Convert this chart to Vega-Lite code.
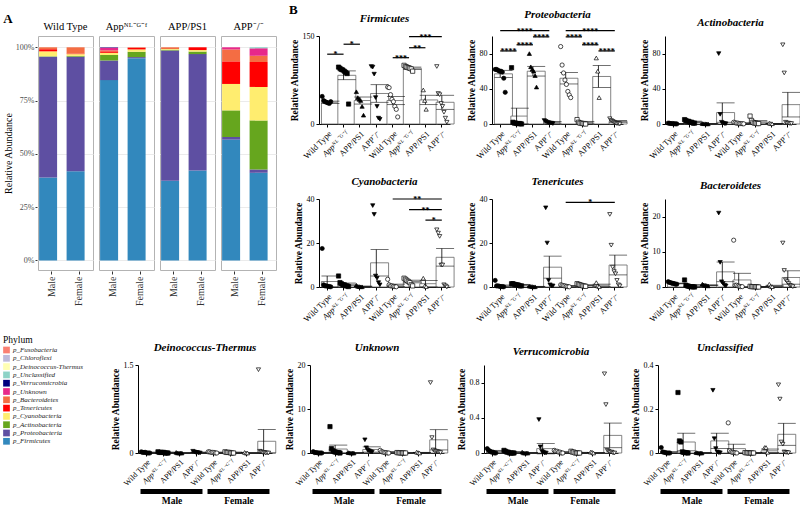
{
"$schema": "https://vega.github.io/schema/vega-lite/v6.json",
"padding": {"left": 3, "top": 3, "right": 3, "bottom": 2},
"background": "white",
"config": {
 "font": "Liberation Serif",
 "view": {"stroke": null},
 "title": {"font": "Liberation Serif", "fontSize": 11, "fontWeight": "bold", "fontStyle": "italic", "color": "black", "offset": 8},
 "axis": {"labelFont": "Liberation Serif", "titleFont": "Liberation Serif", "grid": false, "labelColor": "black", "titleColor": "black", "tickColor": "black", "domainColor": "black"},
 "header": {"labelFont": "Liberation Serif", "labelFontSize": 10.5, "labelColor": "black", "titleFont": "Liberation Serif"},
 "legend": {"labelFont": "Liberation Serif", "titleFont": "Liberation Serif"}
},
"datasets": {
 "A": [
  {"gt":"WT","sx":"Male","ph":"p_Firmicutes","v":38.9},{"gt":"WT","sx":"Male","ph":"p_Proteobacteria","v":56.7},{"gt":"WT","sx":"Male","ph":"p_Actinobacteria","v":0.2},{"gt":"WT","sx":"Male","ph":"p_Cyanobacteria","v":2.3},{"gt":"WT","sx":"Male","ph":"p_Tenericutes","v":1.0},{"gt":"WT","sx":"Male","ph":"p_Bacteroidetes","v":0.9},
  {"gt":"WT","sx":"Female","ph":"p_Firmicutes","v":41.8},{"gt":"WT","sx":"Female","ph":"p_Proteobacteria","v":53.8},{"gt":"WT","sx":"Female","ph":"p_Actinobacteria","v":0.4},{"gt":"WT","sx":"Female","ph":"p_Cyanobacteria","v":0.8},{"gt":"WT","sx":"Female","ph":"p_Tenericutes","v":0.2},{"gt":"WT","sx":"Female","ph":"p_Bacteroidetes","v":3.0},
  {"gt":"App","sx":"Male","ph":"p_Firmicutes","v":84.6},{"gt":"App","sx":"Male","ph":"p_Proteobacteria","v":9.2},{"gt":"App","sx":"Male","ph":"p_Actinobacteria","v":2.6},{"gt":"App","sx":"Male","ph":"p_Cyanobacteria","v":1.0},{"gt":"App","sx":"Male","ph":"p_Tenericutes","v":0.7},{"gt":"App","sx":"Male","ph":"p_Bacteroidetes","v":0.5},{"gt":"App","sx":"Male","ph":"p_Unknown","v":1.2},{"gt":"App","sx":"Male","ph":"p_Verrucomicrobia","v":0.2},
  {"gt":"App","sx":"Female","ph":"p_Firmicutes","v":94.9},{"gt":"App","sx":"Female","ph":"p_Proteobacteria","v":0.5},{"gt":"App","sx":"Female","ph":"p_Actinobacteria","v":2.5},{"gt":"App","sx":"Female","ph":"p_Cyanobacteria","v":1.1},{"gt":"App","sx":"Female","ph":"p_Tenericutes","v":0.8},{"gt":"App","sx":"Female","ph":"p_Bacteroidetes","v":0.2},
  {"gt":"PS1","sx":"Male","ph":"p_Firmicutes","v":37.4},{"gt":"PS1","sx":"Male","ph":"p_Proteobacteria","v":61.1},{"gt":"PS1","sx":"Male","ph":"p_Actinobacteria","v":0.4},{"gt":"PS1","sx":"Male","ph":"p_Cyanobacteria","v":0.3},{"gt":"PS1","sx":"Male","ph":"p_Bacteroidetes","v":0.8},
  {"gt":"PS1","sx":"Female","ph":"p_Firmicutes","v":42.2},{"gt":"PS1","sx":"Female","ph":"p_Proteobacteria","v":54.6},{"gt":"PS1","sx":"Female","ph":"p_Actinobacteria","v":1.2},{"gt":"PS1","sx":"Female","ph":"p_Cyanobacteria","v":0.7},{"gt":"PS1","sx":"Female","ph":"p_Tenericutes","v":1.3},
  {"gt":"KO","sx":"Male","ph":"p_Firmicutes","v":56.7},{"gt":"KO","sx":"Male","ph":"p_Proteobacteria","v":1.2},{"gt":"KO","sx":"Male","ph":"p_Actinobacteria","v":12.5},{"gt":"KO","sx":"Male","ph":"p_Cyanobacteria","v":12.4},{"gt":"KO","sx":"Male","ph":"p_Tenericutes","v":10.6},{"gt":"KO","sx":"Male","ph":"p_Bacteroidetes","v":5.6},{"gt":"KO","sx":"Male","ph":"p_Unknown","v":1.0},
  {"gt":"KO","sx":"Female","ph":"p_Firmicutes","v":41.1},{"gt":"KO","sx":"Female","ph":"p_Proteobacteria","v":1.6},{"gt":"KO","sx":"Female","ph":"p_Actinobacteria","v":23.0},{"gt":"KO","sx":"Female","ph":"p_Cyanobacteria","v":15.7},{"gt":"KO","sx":"Female","ph":"p_Tenericutes","v":11.7},{"gt":"KO","sx":"Female","ph":"p_Bacteroidetes","v":2.9},{"gt":"KO","sx":"Female","ph":"p_Unknown","v":3.5},{"gt":"KO","sx":"Female","ph":"p_Unclassified","v":0.5}
 ],
 "sexbar": [{"s": "Male", "a": -0.35, "b": 3.35}, {"s": "Female", "a": 3.65, "b": 7.35}],
 "bars": [
  {"p":"Fi","g":"M-WT","m":37,"s":2},{"p":"Fi","g":"M-App","m":83,"s":7.5},{"p":"Fi","g":"M-PS1","m":40,"s":6},{"p":"Fi","g":"M-KO","m":52,"s":15},{"p":"Fi","g":"F-WT","m":40,"s":7},{"p":"Fi","g":"F-App","m":95,"s":2},{"p":"Fi","g":"F-PS1","m":41,"s":8},{"p":"Fi","g":"F-KO","m":37,"s":12},
  {"p":"Pr","g":"M-WT","m":57,"s":4},{"p":"Pr","g":"M-App","m":9,"s":9},{"p":"Pr","g":"M-PS1","m":60,"s":5.5},{"p":"Pr","g":"M-KO","m":2,"s":1},{"p":"Pr","g":"F-WT","m":52,"s":6.5},{"p":"Pr","g":"F-App","m":2,"s":1},{"p":"Pr","g":"F-PS1","m":54,"s":12.5},{"p":"Pr","g":"F-KO","m":3,"s":1},
  {"p":"Ac","g":"M-WT","m":0.5,"s":0.2},{"p":"Ac","g":"M-App","m":2.5,"s":0.7},{"p":"Ac","g":"M-PS1","m":0.3,"s":0.1},{"p":"Ac","g":"M-KO","m":13,"s":11},{"p":"Ac","g":"F-WT","m":1,"s":0.3},{"p":"Ac","g":"F-App","m":2.5,"s":1.3},{"p":"Ac","g":"F-PS1","m":0.5,"s":0.2},{"p":"Ac","g":"F-KO","m":22,"s":14},
  {"p":"Cy","g":"M-WT","m":2.5,"s":2.5},{"p":"Cy","g":"M-App","m":1.2,"s":0.6},{"p":"Cy","g":"M-PS1","m":0.3,"s":0.1},{"p":"Cy","g":"M-KO","m":11,"s":6},{"p":"Cy","g":"F-WT","m":0.8,"s":0.5},{"p":"Cy","g":"F-App","m":2.5,"s":0.6},{"p":"Cy","g":"F-PS1","m":1.5,"s":1.5},{"p":"Cy","g":"F-KO","m":13.5,"s":4},
  {"p":"Te","g":"M-WT","m":0.5,"s":0.4},{"p":"Te","g":"M-App","m":1,"s":0.2},{"p":"Te","g":"M-PS1","m":0.2,"s":0.1},{"p":"Te","g":"M-KO","m":9,"s":5},{"p":"Te","g":"F-WT","m":0.5,"s":0.2},{"p":"Te","g":"F-App","m":0.8,"s":0.2},{"p":"Te","g":"F-PS1","m":0.8,"s":0.5},{"p":"Te","g":"F-KO","m":10,"s":4.5},
  {"p":"Ba","g":"M-WT","m":1,"s":0.1},{"p":"Ba","g":"M-App","m":0.4,"s":0.3},{"p":"Ba","g":"M-PS1","m":0.5,"s":0.1},{"p":"Ba","g":"M-KO","m":4.3,"s":2.8},{"p":"Ba","g":"F-WT","m":2,"s":1.9},{"p":"Ba","g":"F-App","m":0.1,"s":0.05},{"p":"Ba","g":"F-PS1","m":0.3,"s":0.2},{"p":"Ba","g":"F-KO","m":2.7,"s":1.9},
  {"p":"De","g":"M-WT","m":0.01,"s":0.005},{"p":"De","g":"M-App","m":0.01,"s":0.005},{"p":"De","g":"M-PS1","m":0.003,"s":0.002},{"p":"De","g":"M-KO","m":0.01,"s":0.005},{"p":"De","g":"F-WT","m":0.01,"s":0.005},{"p":"De","g":"F-App","m":0.01,"s":0.005},{"p":"De","g":"F-PS1","m":0.003,"s":0.002},{"p":"De","g":"F-KO","m":0.2,"s":0.2},
  {"p":"Un","g":"M-WT","m":0.1,"s":0.05},{"p":"Un","g":"M-App","m":0.9,"s":0.9},{"p":"Un","g":"M-PS1","m":0.05,"s":0.02},{"p":"Un","g":"M-KO","m":0.8,"s":0.6},{"p":"Un","g":"F-WT","m":0.2,"s":0.1},{"p":"Un","g":"F-App","m":0.05,"s":0.02},{"p":"Un","g":"F-PS1","m":0.1,"s":0.05},{"p":"Un","g":"F-KO","m":3,"s":2.3},
  {"p":"Ve","g":"M-WT","m":0.02,"s":0.01},{"p":"Ve","g":"M-App","m":0.01,"s":0.005},{"p":"Ve","g":"M-PS1","m":0.003,"s":0.002},{"p":"Ve","g":"M-KO","m":0.05,"s":0.06},{"p":"Ve","g":"F-WT","m":0.01,"s":0.005},{"p":"Ve","g":"F-App","m":0.005,"s":0.003},{"p":"Ve","g":"F-PS1","m":0.003,"s":0.002},{"p":"Ve","g":"F-KO","m":0.2,"s":0.14},
  {"p":"Uc","g":"M-WT","m":0.003,"s":0.003},{"p":"Uc","g":"M-App","m":0.05,"s":0.04},{"p":"Uc","g":"M-PS1","m":0.001,"s":0.001},{"p":"Uc","g":"M-KO","m":0.055,"s":0.035},{"p":"Uc","g":"F-WT","m":0.02,"s":0.02},{"p":"Uc","g":"F-App","m":0.001,"s":0.001},{"p":"Uc","g":"F-PS1","m":0.01,"s":0.008},{"p":"Uc","g":"F-KO","m":0.085,"s":0.05}
 ],
 "brk": [
  {"p":"Fi","a":0,"b":1,"c":0.5,"y":119,"t":"*"},{"p":"Fi","a":1,"b":2,"c":1.5,"y":136,"t":"*"},{"p":"Fi","a":4,"b":5,"c":4.5,"y":113,"t":"***"},{"p":"Fi","a":5,"b":6,"c":5.5,"y":130,"t":"**"},{"p":"Fi","a":5,"b":7,"c":6,"y":149,"t":"***"},
  {"p":"Pr","a":0,"b":1,"c":0.5,"y":83,"t":"****"},{"p":"Pr","a":1,"b":2,"c":1.5,"y":90,"t":"****"},{"p":"Pr","a":2,"b":3,"c":2.5,"y":99,"t":"****"},{"p":"Pr","a":0,"b":3,"c":1.5,"y":106,"t":"****"},{"p":"Pr","a":4,"b":5,"c":4.5,"y":99,"t":"****"},{"p":"Pr","a":5,"b":6,"c":5.5,"y":90,"t":"****"},{"p":"Pr","a":6,"b":7,"c":6.5,"y":83,"t":"****"},{"p":"Pr","a":4,"b":7,"c":5.5,"y":106,"t":"****"},
  {"p":"Cy","a":4,"b":7,"c":5.5,"y":40,"t":"**"},{"p":"Cy","a":5,"b":7,"c":6,"y":35.2,"t":"**"},{"p":"Cy","a":6,"b":7,"c":6.5,"y":30.4,"t":"*"},
  {"p":"Te","a":4,"b":7,"c":5.5,"y":38.5,"t":"*"}
 ],
 "pts": [
  {"p":"Fi","g":"M-WT","r":0,"v":47},{"p":"Fi","g":"M-WT","r":1,"v":40},{"p":"Fi","g":"M-WT","r":2,"v":38},{"p":"Fi","g":"M-WT","r":3,"v":37},{"p":"Fi","g":"M-WT","r":4,"v":36},{"p":"Fi","g":"M-WT","r":5,"v":35},{"p":"Fi","g":"M-WT","r":6,"v":38},
  {"p":"Fi","g":"M-App","r":0,"v":97},{"p":"Fi","g":"M-App","r":1,"v":95},{"p":"Fi","g":"M-App","r":2,"v":93},{"p":"Fi","g":"M-App","r":3,"v":92},{"p":"Fi","g":"M-App","r":4,"v":90},{"p":"Fi","g":"M-App","r":5,"v":88},{"p":"Fi","g":"M-App","r":6,"v":86},{"p":"Fi","g":"M-App","r":7,"v":34},
  {"p":"Fi","g":"M-PS1","r":1,"v":55},{"p":"Fi","g":"M-PS1","r":2,"v":45},{"p":"Fi","g":"M-PS1","r":3,"v":42},{"p":"Fi","g":"M-PS1","r":4,"v":40},{"p":"Fi","g":"M-PS1","r":5,"v":30},{"p":"Fi","g":"M-PS1","r":6,"v":15},
  {"p":"Fi","g":"M-KO","r":0,"v":98},{"p":"Fi","g":"M-KO","r":1,"v":97},{"p":"Fi","g":"M-KO","r":2,"v":85},{"p":"Fi","g":"M-KO","r":3,"v":45},{"p":"Fi","g":"M-KO","r":4,"v":30},{"p":"Fi","g":"M-KO","r":5,"v":10},{"p":"Fi","g":"M-KO","r":6,"v":8},
  {"p":"Fi","g":"F-WT","r":0,"v":63},{"p":"Fi","g":"F-WT","r":1,"v":62},{"p":"Fi","g":"F-WT","r":2,"v":50},{"p":"Fi","g":"F-WT","r":3,"v":42},{"p":"Fi","g":"F-WT","r":4,"v":38},{"p":"Fi","g":"F-WT","r":5,"v":30},{"p":"Fi","g":"F-WT","r":6,"v":25},{"p":"Fi","g":"F-WT","r":7,"v":12},
  {"p":"Fi","g":"F-App","r":0,"v":100},{"p":"Fi","g":"F-App","r":1,"v":98},{"p":"Fi","g":"F-App","r":2,"v":97},{"p":"Fi","g":"F-App","r":3,"v":96},{"p":"Fi","g":"F-App","r":4,"v":95},{"p":"Fi","g":"F-App","r":5,"v":94},{"p":"Fi","g":"F-App","r":6,"v":90},
  {"p":"Fi","g":"F-PS1","r":2,"v":58},{"p":"Fi","g":"F-PS1","r":3,"v":40},{"p":"Fi","g":"F-PS1","r":4,"v":25},
  {"p":"Fi","g":"F-KO","r":0,"v":98},{"p":"Fi","g":"F-KO","r":1,"v":52},{"p":"Fi","g":"F-KO","r":2,"v":50},{"p":"Fi","g":"F-KO","r":3,"v":35},{"p":"Fi","g":"F-KO","r":4,"v":30},{"p":"Fi","g":"F-KO","r":5,"v":20},{"p":"Fi","g":"F-KO","r":6,"v":10},{"p":"Fi","g":"F-KO","r":7,"v":3},
  {"p":"Pr","g":"M-WT","r":0,"v":62},{"p":"Pr","g":"M-WT","r":1,"v":62},{"p":"Pr","g":"M-WT","r":2,"v":61},{"p":"Pr","g":"M-WT","r":3,"v":60},{"p":"Pr","g":"M-WT","r":4,"v":60},{"p":"Pr","g":"M-WT","r":5,"v":59},{"p":"Pr","g":"M-WT","r":6,"v":52},{"p":"Pr","g":"M-WT","r":7,"v":36},
  {"p":"Pr","g":"M-App","r":0,"v":64},{"p":"Pr","g":"M-App","r":1,"v":2},{"p":"Pr","g":"M-App","r":2,"v":1},{"p":"Pr","g":"M-App","r":3,"v":1},{"p":"Pr","g":"M-App","r":4,"v":0.5},{"p":"Pr","g":"M-App","r":5,"v":0.5},{"p":"Pr","g":"M-App","r":6,"v":0.5},{"p":"Pr","g":"M-App","r":7,"v":0},
  {"p":"Pr","g":"M-PS1","r":1,"v":80},{"p":"Pr","g":"M-PS1","r":2,"v":65},{"p":"Pr","g":"M-PS1","r":3,"v":62},{"p":"Pr","g":"M-PS1","r":4,"v":60},{"p":"Pr","g":"M-PS1","r":5,"v":55},{"p":"Pr","g":"M-PS1","r":6,"v":42},
  {"p":"Pr","g":"M-KO","r":0,"v":4},{"p":"Pr","g":"M-KO","r":1,"v":3},{"p":"Pr","g":"M-KO","r":2,"v":2},{"p":"Pr","g":"M-KO","r":3,"v":1.5},{"p":"Pr","g":"M-KO","r":4,"v":1},{"p":"Pr","g":"M-KO","r":5,"v":1},{"p":"Pr","g":"M-KO","r":6,"v":0.5},
  {"p":"Pr","g":"F-WT","r":0,"v":88},{"p":"Pr","g":"F-WT","r":1,"v":67},{"p":"Pr","g":"F-WT","r":2,"v":58},{"p":"Pr","g":"F-WT","r":3,"v":50},{"p":"Pr","g":"F-WT","r":4,"v":45},{"p":"Pr","g":"F-WT","r":5,"v":37},{"p":"Pr","g":"F-WT","r":6,"v":33},{"p":"Pr","g":"F-WT","r":7,"v":30},
  {"p":"Pr","g":"F-App","r":0,"v":5},{"p":"Pr","g":"F-App","r":1,"v":2},{"p":"Pr","g":"F-App","r":2,"v":1},{"p":"Pr","g":"F-App","r":3,"v":1},{"p":"Pr","g":"F-App","r":4,"v":0.5},{"p":"Pr","g":"F-App","r":5,"v":0.5},{"p":"Pr","g":"F-App","r":6,"v":0},
  {"p":"Pr","g":"F-PS1","r":2,"v":75},{"p":"Pr","g":"F-PS1","r":3,"v":60},{"p":"Pr","g":"F-PS1","r":4,"v":30},
  {"p":"Pr","g":"F-KO","r":0,"v":6},{"p":"Pr","g":"F-KO","r":1,"v":4},{"p":"Pr","g":"F-KO","r":2,"v":3},{"p":"Pr","g":"F-KO","r":3,"v":2},{"p":"Pr","g":"F-KO","r":4,"v":1},{"p":"Pr","g":"F-KO","r":5,"v":0.5},{"p":"Pr","g":"F-KO","r":6,"v":0.5},{"p":"Pr","g":"F-KO","r":7,"v":0},
  {"p":"Ac","g":"M-WT","r":0,"v":1},{"p":"Ac","g":"M-WT","r":1,"v":0.8},{"p":"Ac","g":"M-WT","r":2,"v":0.5},{"p":"Ac","g":"M-WT","r":3,"v":0.5},{"p":"Ac","g":"M-WT","r":4,"v":0.3},{"p":"Ac","g":"M-WT","r":5,"v":0.2},{"p":"Ac","g":"M-WT","r":6,"v":0.1},
  {"p":"Ac","g":"M-App","r":0,"v":5},{"p":"Ac","g":"M-App","r":1,"v":4},{"p":"Ac","g":"M-App","r":2,"v":3},{"p":"Ac","g":"M-App","r":3,"v":3},{"p":"Ac","g":"M-App","r":4,"v":2},{"p":"Ac","g":"M-App","r":5,"v":2},{"p":"Ac","g":"M-App","r":6,"v":1},{"p":"Ac","g":"M-App","r":7,"v":1},
  {"p":"Ac","g":"M-PS1","r":1,"v":0.5},{"p":"Ac","g":"M-PS1","r":2,"v":0.3},{"p":"Ac","g":"M-PS1","r":3,"v":0.3},{"p":"Ac","g":"M-PS1","r":4,"v":0.2},{"p":"Ac","g":"M-PS1","r":5,"v":0.1},
  {"p":"Ac","g":"M-KO","r":1,"v":80},{"p":"Ac","g":"M-KO","r":2,"v":11},{"p":"Ac","g":"M-KO","r":3,"v":2},{"p":"Ac","g":"M-KO","r":4,"v":1},{"p":"Ac","g":"M-KO","r":5,"v":0.5},{"p":"Ac","g":"M-KO","r":6,"v":0.3},
  {"p":"Ac","g":"F-WT","r":0,"v":2},{"p":"Ac","g":"F-WT","r":1,"v":1.5},{"p":"Ac","g":"F-WT","r":2,"v":1},{"p":"Ac","g":"F-WT","r":3,"v":1},{"p":"Ac","g":"F-WT","r":4,"v":0.5},{"p":"Ac","g":"F-WT","r":5,"v":0.5},{"p":"Ac","g":"F-WT","r":6,"v":0.3},{"p":"Ac","g":"F-WT","r":7,"v":0.2},
  {"p":"Ac","g":"F-App","r":0,"v":9},{"p":"Ac","g":"F-App","r":1,"v":4},{"p":"Ac","g":"F-App","r":2,"v":2},{"p":"Ac","g":"F-App","r":3,"v":1},{"p":"Ac","g":"F-App","r":4,"v":1},{"p":"Ac","g":"F-App","r":5,"v":0.5},{"p":"Ac","g":"F-App","r":6,"v":0.5},
  {"p":"Ac","g":"F-PS1","r":2,"v":1},{"p":"Ac","g":"F-PS1","r":3,"v":0.5},{"p":"Ac","g":"F-PS1","r":4,"v":0.3},
  {"p":"Ac","g":"F-KO","r":0,"v":90},{"p":"Ac","g":"F-KO","r":1,"v":58},{"p":"Ac","g":"F-KO","r":2,"v":2},{"p":"Ac","g":"F-KO","r":3,"v":1},{"p":"Ac","g":"F-KO","r":4,"v":1},{"p":"Ac","g":"F-KO","r":5,"v":0.5},{"p":"Ac","g":"F-KO","r":6,"v":0.5},
  {"p":"Cy","g":"M-WT","r":0,"v":17.5},{"p":"Cy","g":"M-WT","r":1,"v":1},{"p":"Cy","g":"M-WT","r":2,"v":0.5},{"p":"Cy","g":"M-WT","r":3,"v":0.5},{"p":"Cy","g":"M-WT","r":4,"v":0.3},{"p":"Cy","g":"M-WT","r":5,"v":0.2},{"p":"Cy","g":"M-WT","r":6,"v":0.1},
  {"p":"Cy","g":"M-App","r":0,"v":5},{"p":"Cy","g":"M-App","r":1,"v":2},{"p":"Cy","g":"M-App","r":2,"v":1.5},{"p":"Cy","g":"M-App","r":3,"v":1},{"p":"Cy","g":"M-App","r":4,"v":1},{"p":"Cy","g":"M-App","r":5,"v":0.5},{"p":"Cy","g":"M-App","r":6,"v":0.5},{"p":"Cy","g":"M-App","r":7,"v":0.2},
  {"p":"Cy","g":"M-PS1","r":1,"v":0.8},{"p":"Cy","g":"M-PS1","r":2,"v":0.3},{"p":"Cy","g":"M-PS1","r":3,"v":0.2},{"p":"Cy","g":"M-PS1","r":4,"v":0.1},{"p":"Cy","g":"M-PS1","r":5,"v":0.1},
  {"p":"Cy","g":"M-KO","r":1,"v":37},{"p":"Cy","g":"M-KO","r":2,"v":33},{"p":"Cy","g":"M-KO","r":3,"v":5},{"p":"Cy","g":"M-KO","r":4,"v":4},{"p":"Cy","g":"M-KO","r":5,"v":2},{"p":"Cy","g":"M-KO","r":6,"v":1},
  {"p":"Cy","g":"F-WT","r":0,"v":3.5},{"p":"Cy","g":"F-WT","r":1,"v":1},{"p":"Cy","g":"F-WT","r":2,"v":0.5},{"p":"Cy","g":"F-WT","r":3,"v":0.5},{"p":"Cy","g":"F-WT","r":4,"v":0.3},{"p":"Cy","g":"F-WT","r":5,"v":0.2},{"p":"Cy","g":"F-WT","r":6,"v":0.1},
  {"p":"Cy","g":"F-App","r":0,"v":4},{"p":"Cy","g":"F-App","r":1,"v":3.5},{"p":"Cy","g":"F-App","r":2,"v":3},{"p":"Cy","g":"F-App","r":3,"v":2.5},{"p":"Cy","g":"F-App","r":4,"v":2},{"p":"Cy","g":"F-App","r":5,"v":1},{"p":"Cy","g":"F-App","r":6,"v":0.5},
  {"p":"Cy","g":"F-PS1","r":2,"v":4},{"p":"Cy","g":"F-PS1","r":3,"v":0.5},{"p":"Cy","g":"F-PS1","r":4,"v":0.2},
  {"p":"Cy","g":"F-KO","r":0,"v":26},{"p":"Cy","g":"F-KO","r":1,"v":24.5},{"p":"Cy","g":"F-KO","r":2,"v":23},{"p":"Cy","g":"F-KO","r":3,"v":10},{"p":"Cy","g":"F-KO","r":4,"v":10},{"p":"Cy","g":"F-KO","r":5,"v":1},{"p":"Cy","g":"F-KO","r":6,"v":0.5},{"p":"Cy","g":"F-KO","r":7,"v":0},
  {"p":"Te","g":"M-WT","r":0,"v":3},{"p":"Te","g":"M-WT","r":1,"v":0.5},{"p":"Te","g":"M-WT","r":2,"v":0.5},{"p":"Te","g":"M-WT","r":3,"v":0.3},{"p":"Te","g":"M-WT","r":4,"v":0.2},{"p":"Te","g":"M-WT","r":5,"v":0.2},{"p":"Te","g":"M-WT","r":6,"v":0.1},
  {"p":"Te","g":"M-App","r":0,"v":1.5},{"p":"Te","g":"M-App","r":1,"v":1.5},{"p":"Te","g":"M-App","r":2,"v":1.2},{"p":"Te","g":"M-App","r":3,"v":1},{"p":"Te","g":"M-App","r":4,"v":1},{"p":"Te","g":"M-App","r":5,"v":0.8},{"p":"Te","g":"M-App","r":6,"v":0.5},{"p":"Te","g":"M-App","r":7,"v":0.5},
  {"p":"Te","g":"M-PS1","r":1,"v":0.4},{"p":"Te","g":"M-PS1","r":2,"v":0.3},{"p":"Te","g":"M-PS1","r":3,"v":0.2},{"p":"Te","g":"M-PS1","r":4,"v":0.1},{"p":"Te","g":"M-PS1","r":5,"v":0.1},
  {"p":"Te","g":"M-KO","r":1,"v":36},{"p":"Te","g":"M-KO","r":2,"v":20},{"p":"Te","g":"M-KO","r":3,"v":3},{"p":"Te","g":"M-KO","r":4,"v":1},{"p":"Te","g":"M-KO","r":5,"v":0.5},{"p":"Te","g":"M-KO","r":6,"v":0.5},
  {"p":"Te","g":"F-WT","r":0,"v":1},{"p":"Te","g":"F-WT","r":1,"v":0.8},{"p":"Te","g":"F-WT","r":2,"v":0.6},{"p":"Te","g":"F-WT","r":3,"v":0.5},{"p":"Te","g":"F-WT","r":4,"v":0.3},{"p":"Te","g":"F-WT","r":5,"v":0.2},{"p":"Te","g":"F-WT","r":6,"v":0.1},
  {"p":"Te","g":"F-App","r":0,"v":1.5},{"p":"Te","g":"F-App","r":1,"v":1.2},{"p":"Te","g":"F-App","r":2,"v":1},{"p":"Te","g":"F-App","r":3,"v":0.8},{"p":"Te","g":"F-App","r":4,"v":0.5},{"p":"Te","g":"F-App","r":5,"v":0.5},{"p":"Te","g":"F-App","r":6,"v":0.3},
  {"p":"Te","g":"F-PS1","r":2,"v":2},{"p":"Te","g":"F-PS1","r":3,"v":0.5},{"p":"Te","g":"F-PS1","r":4,"v":0.2},
  {"p":"Te","g":"F-KO","r":0,"v":33},{"p":"Te","g":"F-KO","r":1,"v":19},{"p":"Te","g":"F-KO","r":2,"v":9},{"p":"Te","g":"F-KO","r":3,"v":7},{"p":"Te","g":"F-KO","r":4,"v":6},{"p":"Te","g":"F-KO","r":5,"v":3},{"p":"Te","g":"F-KO","r":6,"v":1},{"p":"Te","g":"F-KO","r":7,"v":0.5},
  {"p":"Ba","g":"M-WT","r":0,"v":1.5},{"p":"Ba","g":"M-WT","r":1,"v":1.3},{"p":"Ba","g":"M-WT","r":2,"v":1.2},{"p":"Ba","g":"M-WT","r":3,"v":1},{"p":"Ba","g":"M-WT","r":4,"v":1},{"p":"Ba","g":"M-WT","r":5,"v":0.8},{"p":"Ba","g":"M-WT","r":6,"v":0.8},
  {"p":"Ba","g":"M-App","r":0,"v":2},{"p":"Ba","g":"M-App","r":1,"v":0.5},{"p":"Ba","g":"M-App","r":2,"v":0.3},{"p":"Ba","g":"M-App","r":3,"v":0.2},{"p":"Ba","g":"M-App","r":4,"v":0.1},{"p":"Ba","g":"M-App","r":5,"v":0.1},{"p":"Ba","g":"M-App","r":6,"v":0.05},{"p":"Ba","g":"M-App","r":7,"v":0},
  {"p":"Ba","g":"M-PS1","r":1,"v":0.8},{"p":"Ba","g":"M-PS1","r":2,"v":0.6},{"p":"Ba","g":"M-PS1","r":3,"v":0.5},{"p":"Ba","g":"M-PS1","r":4,"v":0.4},{"p":"Ba","g":"M-PS1","r":5,"v":0.3},
  {"p":"Ba","g":"M-KO","r":1,"v":21},{"p":"Ba","g":"M-KO","r":2,"v":7},{"p":"Ba","g":"M-KO","r":3,"v":1.5},{"p":"Ba","g":"M-KO","r":4,"v":1},{"p":"Ba","g":"M-KO","r":5,"v":0.5},{"p":"Ba","g":"M-KO","r":6,"v":0.3},
  {"p":"Ba","g":"F-WT","r":0,"v":13.3},{"p":"Ba","g":"F-WT","r":1,"v":0.5},{"p":"Ba","g":"F-WT","r":2,"v":0.5},{"p":"Ba","g":"F-WT","r":3,"v":0.3},{"p":"Ba","g":"F-WT","r":4,"v":0.2},{"p":"Ba","g":"F-WT","r":5,"v":0.1},{"p":"Ba","g":"F-WT","r":6,"v":0.1},
  {"p":"Ba","g":"F-App","r":0,"v":0.2},{"p":"Ba","g":"F-App","r":1,"v":0.1},{"p":"Ba","g":"F-App","r":2,"v":0.1},{"p":"Ba","g":"F-App","r":3,"v":0.1},{"p":"Ba","g":"F-App","r":4,"v":0.05},{"p":"Ba","g":"F-App","r":5,"v":0.05},{"p":"Ba","g":"F-App","r":6,"v":0},
  {"p":"Ba","g":"F-PS1","r":2,"v":0.8},{"p":"Ba","g":"F-PS1","r":3,"v":0.2},{"p":"Ba","g":"F-PS1","r":4,"v":0.1},
  {"p":"Ba","g":"F-KO","r":0,"v":12.5},{"p":"Ba","g":"F-KO","r":1,"v":4.7},{"p":"Ba","g":"F-KO","r":2,"v":2},{"p":"Ba","g":"F-KO","r":3,"v":1.5},{"p":"Ba","g":"F-KO","r":4,"v":1},{"p":"Ba","g":"F-KO","r":5,"v":0.5},{"p":"Ba","g":"F-KO","r":6,"v":0.3},{"p":"Ba","g":"F-KO","r":7,"v":0.1},
  {"p":"De","g":"M-WT","r":0,"v":0.02},{"p":"De","g":"M-WT","r":1,"v":0.01},{"p":"De","g":"M-WT","r":2,"v":0.01},{"p":"De","g":"M-WT","r":3,"v":0.01},{"p":"De","g":"M-WT","r":4,"v":0},{"p":"De","g":"M-WT","r":5,"v":0},{"p":"De","g":"M-WT","r":6,"v":0},
  {"p":"De","g":"M-App","r":0,"v":0.02},{"p":"De","g":"M-App","r":1,"v":0.01},{"p":"De","g":"M-App","r":2,"v":0.01},{"p":"De","g":"M-App","r":3,"v":0.01},{"p":"De","g":"M-App","r":4,"v":0.01},{"p":"De","g":"M-App","r":5,"v":0},{"p":"De","g":"M-App","r":6,"v":0},{"p":"De","g":"M-App","r":7,"v":0},
  {"p":"De","g":"M-PS1","r":1,"v":0.01},{"p":"De","g":"M-PS1","r":2,"v":0},{"p":"De","g":"M-PS1","r":3,"v":0},{"p":"De","g":"M-PS1","r":4,"v":0},{"p":"De","g":"M-PS1","r":5,"v":0},
  {"p":"De","g":"M-KO","r":1,"v":0.03},{"p":"De","g":"M-KO","r":2,"v":0.02},{"p":"De","g":"M-KO","r":3,"v":0.01},{"p":"De","g":"M-KO","r":4,"v":0.01},{"p":"De","g":"M-KO","r":5,"v":0},{"p":"De","g":"M-KO","r":6,"v":0},
  {"p":"De","g":"F-WT","r":0,"v":0.02},{"p":"De","g":"F-WT","r":1,"v":0.02},{"p":"De","g":"F-WT","r":2,"v":0.01},{"p":"De","g":"F-WT","r":3,"v":0.01},{"p":"De","g":"F-WT","r":4,"v":0.01},{"p":"De","g":"F-WT","r":5,"v":0},{"p":"De","g":"F-WT","r":6,"v":0},
  {"p":"De","g":"F-App","r":0,"v":0.02},{"p":"De","g":"F-App","r":1,"v":0.01},{"p":"De","g":"F-App","r":2,"v":0.01},{"p":"De","g":"F-App","r":3,"v":0.01},{"p":"De","g":"F-App","r":4,"v":0},{"p":"De","g":"F-App","r":5,"v":0},{"p":"De","g":"F-App","r":6,"v":0},
  {"p":"De","g":"F-PS1","r":2,"v":0.01},{"p":"De","g":"F-PS1","r":3,"v":0},{"p":"De","g":"F-PS1","r":4,"v":0},
  {"p":"De","g":"F-KO","r":0,"v":1.42},{"p":"De","g":"F-KO","r":1,"v":0.03},{"p":"De","g":"F-KO","r":2,"v":0.02},{"p":"De","g":"F-KO","r":3,"v":0.01},{"p":"De","g":"F-KO","r":4,"v":0.01},{"p":"De","g":"F-KO","r":5,"v":0},{"p":"De","g":"F-KO","r":6,"v":0},{"p":"De","g":"F-KO","r":7,"v":0},
  {"p":"Un","g":"M-WT","r":0,"v":0.3},{"p":"Un","g":"M-WT","r":1,"v":0.1},{"p":"Un","g":"M-WT","r":2,"v":0.1},{"p":"Un","g":"M-WT","r":3,"v":0.05},{"p":"Un","g":"M-WT","r":4,"v":0},{"p":"Un","g":"M-WT","r":5,"v":0},{"p":"Un","g":"M-WT","r":6,"v":0},
  {"p":"Un","g":"M-App","r":0,"v":6},{"p":"Un","g":"M-App","r":1,"v":1},{"p":"Un","g":"M-App","r":2,"v":0.5},{"p":"Un","g":"M-App","r":3,"v":0.3},{"p":"Un","g":"M-App","r":4,"v":0.2},{"p":"Un","g":"M-App","r":5,"v":0.1},{"p":"Un","g":"M-App","r":6,"v":0.1},{"p":"Un","g":"M-App","r":7,"v":0},
  {"p":"Un","g":"M-PS1","r":1,"v":0.1},{"p":"Un","g":"M-PS1","r":2,"v":0.05},{"p":"Un","g":"M-PS1","r":3,"v":0},{"p":"Un","g":"M-PS1","r":4,"v":0},{"p":"Un","g":"M-PS1","r":5,"v":0},
  {"p":"Un","g":"M-KO","r":1,"v":3},{"p":"Un","g":"M-KO","r":2,"v":1.2},{"p":"Un","g":"M-KO","r":3,"v":0.6},{"p":"Un","g":"M-KO","r":4,"v":0.5},{"p":"Un","g":"M-KO","r":5,"v":0.3},{"p":"Un","g":"M-KO","r":6,"v":0.2},
  {"p":"Un","g":"F-WT","r":0,"v":0.6},{"p":"Un","g":"F-WT","r":1,"v":0.3},{"p":"Un","g":"F-WT","r":2,"v":0.2},{"p":"Un","g":"F-WT","r":3,"v":0.1},{"p":"Un","g":"F-WT","r":4,"v":0.1},{"p":"Un","g":"F-WT","r":5,"v":0},{"p":"Un","g":"F-WT","r":6,"v":0},
  {"p":"Un","g":"F-App","r":0,"v":0.1},{"p":"Un","g":"F-App","r":1,"v":0.05},{"p":"Un","g":"F-App","r":2,"v":0.05},{"p":"Un","g":"F-App","r":3,"v":0},{"p":"Un","g":"F-App","r":4,"v":0},{"p":"Un","g":"F-App","r":5,"v":0},{"p":"Un","g":"F-App","r":6,"v":0},
  {"p":"Un","g":"F-PS1","r":2,"v":0.2},{"p":"Un","g":"F-PS1","r":3,"v":0.1},{"p":"Un","g":"F-PS1","r":4,"v":0},
  {"p":"Un","g":"F-KO","r":0,"v":16},{"p":"Un","g":"F-KO","r":1,"v":3.5},{"p":"Un","g":"F-KO","r":2,"v":0.7},{"p":"Un","g":"F-KO","r":3,"v":0.5},{"p":"Un","g":"F-KO","r":4,"v":0.4},{"p":"Un","g":"F-KO","r":5,"v":0.3},{"p":"Un","g":"F-KO","r":6,"v":0.2},{"p":"Un","g":"F-KO","r":7,"v":0.1},
  {"p":"Ve","g":"M-WT","r":0,"v":0.05},{"p":"Ve","g":"M-WT","r":1,"v":0.03},{"p":"Ve","g":"M-WT","r":2,"v":0.02},{"p":"Ve","g":"M-WT","r":3,"v":0.01},{"p":"Ve","g":"M-WT","r":4,"v":0.01},{"p":"Ve","g":"M-WT","r":5,"v":0},{"p":"Ve","g":"M-WT","r":6,"v":0},
  {"p":"Ve","g":"M-App","r":0,"v":0.03},{"p":"Ve","g":"M-App","r":1,"v":0.02},{"p":"Ve","g":"M-App","r":2,"v":0.01},{"p":"Ve","g":"M-App","r":3,"v":0.01},{"p":"Ve","g":"M-App","r":4,"v":0},{"p":"Ve","g":"M-App","r":5,"v":0},{"p":"Ve","g":"M-App","r":6,"v":0},{"p":"Ve","g":"M-App","r":7,"v":0},
  {"p":"Ve","g":"M-PS1","r":1,"v":0.01},{"p":"Ve","g":"M-PS1","r":2,"v":0},{"p":"Ve","g":"M-PS1","r":3,"v":0},{"p":"Ve","g":"M-PS1","r":4,"v":0},{"p":"Ve","g":"M-PS1","r":5,"v":0},
  {"p":"Ve","g":"M-KO","r":1,"v":0.38},{"p":"Ve","g":"M-KO","r":2,"v":0.07},{"p":"Ve","g":"M-KO","r":3,"v":0.02},{"p":"Ve","g":"M-KO","r":4,"v":0.01},{"p":"Ve","g":"M-KO","r":5,"v":0},{"p":"Ve","g":"M-KO","r":6,"v":0},
  {"p":"Ve","g":"F-WT","r":0,"v":0.03},{"p":"Ve","g":"F-WT","r":1,"v":0.02},{"p":"Ve","g":"F-WT","r":2,"v":0.02},{"p":"Ve","g":"F-WT","r":3,"v":0.01},{"p":"Ve","g":"F-WT","r":4,"v":0.01},{"p":"Ve","g":"F-WT","r":5,"v":0},{"p":"Ve","g":"F-WT","r":6,"v":0},
  {"p":"Ve","g":"F-App","r":0,"v":0.02},{"p":"Ve","g":"F-App","r":1,"v":0.01},{"p":"Ve","g":"F-App","r":2,"v":0.01},{"p":"Ve","g":"F-App","r":3,"v":0},{"p":"Ve","g":"F-App","r":4,"v":0},{"p":"Ve","g":"F-App","r":5,"v":0},{"p":"Ve","g":"F-App","r":6,"v":0},
  {"p":"Ve","g":"F-PS1","r":2,"v":0.01},{"p":"Ve","g":"F-PS1","r":3,"v":0.01},{"p":"Ve","g":"F-PS1","r":4,"v":0},
  {"p":"Ve","g":"F-KO","r":0,"v":0.9},{"p":"Ve","g":"F-KO","r":1,"v":0.55},{"p":"Ve","g":"F-KO","r":2,"v":0.03},{"p":"Ve","g":"F-KO","r":3,"v":0.02},{"p":"Ve","g":"F-KO","r":4,"v":0.01},{"p":"Ve","g":"F-KO","r":5,"v":0.01},{"p":"Ve","g":"F-KO","r":6,"v":0},{"p":"Ve","g":"F-KO","r":7,"v":0},
  {"p":"Uc","g":"M-WT","r":0,"v":0.025},{"p":"Uc","g":"M-WT","r":1,"v":0.005},{"p":"Uc","g":"M-WT","r":2,"v":0.003},{"p":"Uc","g":"M-WT","r":3,"v":0.002},{"p":"Uc","g":"M-WT","r":4,"v":0},{"p":"Uc","g":"M-WT","r":5,"v":0},{"p":"Uc","g":"M-WT","r":6,"v":0},
  {"p":"Uc","g":"M-App","r":0,"v":0.275},{"p":"Uc","g":"M-App","r":1,"v":0.055},{"p":"Uc","g":"M-App","r":2,"v":0.05},{"p":"Uc","g":"M-App","r":3,"v":0.005},{"p":"Uc","g":"M-App","r":4,"v":0.003},{"p":"Uc","g":"M-App","r":5,"v":0.002},{"p":"Uc","g":"M-App","r":6,"v":0.001},{"p":"Uc","g":"M-App","r":7,"v":0},
  {"p":"Uc","g":"M-PS1","r":1,"v":0.002},{"p":"Uc","g":"M-PS1","r":2,"v":0.001},{"p":"Uc","g":"M-PS1","r":3,"v":0},{"p":"Uc","g":"M-PS1","r":4,"v":0},{"p":"Uc","g":"M-PS1","r":5,"v":0},
  {"p":"Uc","g":"M-KO","r":1,"v":0.285},{"p":"Uc","g":"M-KO","r":2,"v":0.065},{"p":"Uc","g":"M-KO","r":3,"v":0.02},{"p":"Uc","g":"M-KO","r":4,"v":0.005},{"p":"Uc","g":"M-KO","r":5,"v":0.002},{"p":"Uc","g":"M-KO","r":6,"v":0.001},
  {"p":"Uc","g":"F-WT","r":0,"v":0.137},{"p":"Uc","g":"F-WT","r":1,"v":0.01},{"p":"Uc","g":"F-WT","r":2,"v":0.005},{"p":"Uc","g":"F-WT","r":3,"v":0.003},{"p":"Uc","g":"F-WT","r":4,"v":0.002},{"p":"Uc","g":"F-WT","r":5,"v":0.001},{"p":"Uc","g":"F-WT","r":6,"v":0},
  {"p":"Uc","g":"F-App","r":0,"v":0.002},{"p":"Uc","g":"F-App","r":1,"v":0.001},{"p":"Uc","g":"F-App","r":2,"v":0.001},{"p":"Uc","g":"F-App","r":3,"v":0},{"p":"Uc","g":"F-App","r":4,"v":0},{"p":"Uc","g":"F-App","r":5,"v":0},{"p":"Uc","g":"F-App","r":6,"v":0},
  {"p":"Uc","g":"F-PS1","r":2,"v":0.025},{"p":"Uc","g":"F-PS1","r":3,"v":0.025},{"p":"Uc","g":"F-PS1","r":4,"v":0.003},
  {"p":"Uc","g":"F-KO","r":0,"v":0.31},{"p":"Uc","g":"F-KO","r":1,"v":0.245},{"p":"Uc","g":"F-KO","r":2,"v":0.05},{"p":"Uc","g":"F-KO","r":3,"v":0.04},{"p":"Uc","g":"F-KO","r":4,"v":0.005},{"p":"Uc","g":"F-KO","r":5,"v":0.003},{"p":"Uc","g":"F-KO","r":6,"v":0.002},{"p":"Uc","g":"F-KO","r":7,"v":0.001}
 ]
},
"resolve": {"scale": {"color": "independent"}, "legend": {"color": "independent"}},
"spacing": 11,
"vconcat": [
 {
  "concat": [
   {
    "title": {"text": "A", "anchor": "start", "fontStyle": "normal", "fontSize": 13, "offset": -4},
    "vconcat": [
   {
    "data": {"name": "A"},
    "transform": [{"calculate": "indexof(['p_Firmicutes','p_Proteobacteria','p_Actinobacteria','p_Cyanobacteria','p_Tenericutes','p_Bacteroidetes','p_Unknown','p_Verrucomicrobia','p_Unclassified','p_Deinococcus-Thermus','p_Chloroflexi','p_Fusobacteria'], datum.ph)", "as": "k"}],
    "facet": {"column": {"field": "gt", "type": "nominal", "sort": ["WT", "App", "PS1", "KO"], "title": null, "header": {"labelPadding": 3, "labelExpr": "datum.value=='WT'?'Wild Type':datum.value=='App'?'Appᴺᴸ⁻ᴳ⁻ᶠ':datum.value=='PS1'?'APP/PS1':'APP⁻/⁻'"}}},
    "spacing": 4,
    "spec": {
     "width": 55,
     "height": 234,
     "view": {"stroke": "#b3b3b3"},
     "mark": {"type": "bar"},
     "encoding": {
      "x": {"field": "sx", "type": "nominal", "sort": ["Male", "Female"], "scale": {"paddingInner": 0.08, "paddingOuter": 0.04}, "axis": {"title": null, "labelAngle": -90, "labelFontSize": 10, "labelColor": "#333333", "tickColor": "#333333", "domain": false, "tickSize": 3, "labelPadding": 2}},
      "y": {"field": "v", "type": "quantitative", "stack": "zero", "scale": {"domain": [-4.5, 105.3], "nice": false}, "axis": {"title": "Relative Abundance", "titleFontWeight": "normal", "titleFontSize": 10, "values": [0, 25, 50, 75, 100], "labelExpr": "datum.value + '%'", "labelFontSize": 8, "labelColor": "#4d4d4d", "tickColor": "#333333", "tickSize": 2, "labelPadding": 1, "domain": false, "grid": true, "gridColor": "#ebebeb", "titlePadding": 2}},
      "color": {"field": "ph", "type": "nominal", "scale": {"domain": ["p_Fusobacteria","p_Chloroflexi","p_Deinococcus-Thermus","p_Unclassified","p_Verrucomicrobia","p_Unknown","p_Bacteroidetes","p_Tenericutes","p_Cyanobacteria","p_Actinobacteria","p_Proteobacteria","p_Firmicutes"], "range": ["#fb8072","#bebada","#ffffb3","#8dd3c7","#000080","#e7298a","#f46d43","#ff0000","#ffed6f","#66a61e","#5e4fa2","#3288bd"]}, "legend": null},
      "order": {"field": "k", "type": "quantitative", "sort": "ascending"}
     }
    }
   }
    ]
   },
   {
    "title": {"text": "B", "anchor": "start", "fontStyle": "normal", "fontSize": 13, "offset": -8},
    "spacing": 15,
    "vconcat": [
     {"spacing": 11, "hconcat": [
      {"width": 131, "height": 88, "title": {"text": "Firmicutes"}, "resolve": {"scale": {"x": "independent"}},
       "layer": [
        {"layer": [
         {"data": {"name": "bars"}, "transform": [{"filter": "datum.p=='Fi'"}], "mark": {"type": "bar", "fill": "white", "stroke": "#666666", "strokeWidth": 0.8},
          "encoding": {"x": {"field": "g", "type": "nominal", "scale": {"domain": ["M-WT","M-App","M-PS1","M-KO","F-WT","F-App","F-PS1","F-KO"], "paddingInner": 0.3, "paddingOuter": 0.15}, "axis": {"title": null, "labelAngle": -45, "labelFontSize": 8.5, "labelPadding": 2, "tickSize": 3, "labelExpr": "indexof(datum.value,'WT')>=0?'Wild Type':indexof(datum.value,'App')>=0?'Appᴺᴸ⁻ᴳ⁻ᶠ':indexof(datum.value,'PS1')>=0?'APP/PS1':'APP⁻/⁻'", "labelFontStyle": {"condition": {"test": "indexof(datum.value,'App')>=0", "value": "italic"}, "value": "normal"}}},
           "y": {"field": "m", "type": "quantitative", "title": "Relative Abundance", "scale": {"domain": [0, 150], "nice": false}, "axis": {"titleFontWeight": "bold", "titleFontSize": 9.5, "titlePadding": 3, "labelFontSize": 8, "tickSize": 3, "values": [0, 50, 100, 150]}}}},
         {"data": {"name": "bars"}, "transform": [{"filter": "datum.p=='Fi'"}], "mark": {"type": "errorbar", "ticks": true, "color": "black", "thickness": 0.8},
          "encoding": {"x": {"field": "g", "type": "nominal"}, "y": {"field": "m", "type": "quantitative", "title": "Relative Abundance", "scale": {"domain": [0, 150], "nice": false}}, "yError": {"field": "s"}}},
         {"data": {"name": "pts"}, "transform": [{"filter": "datum.p=='Fi'"}], "mark": {"type": "point", "filled": true, "size": 18, "stroke": "black", "strokeWidth": 0.7, "opacity": 1},
          "encoding": {"x": {"field": "g", "type": "nominal"}, "xOffset": {"field": "r", "type": "ordinal", "scale": {"domain": [0,1,2,3,4,5,6,7]}}, "y": {"field": "v", "type": "quantitative", "title": "Relative Abundance", "scale": {"domain": [0, 150], "nice": false}},
           "shape": {"field": "g", "type": "nominal", "scale": {"domain": ["M-WT","M-App","M-PS1","M-KO","F-WT","F-App","F-PS1","F-KO"], "range": ["circle","square","triangle-up","triangle-down","circle","square","triangle-up","triangle-down"]}, "legend": null},
           "fill": {"field": "g", "type": "nominal", "scale": {"domain": ["M-WT","M-App","M-PS1","M-KO","F-WT","F-App","F-PS1","F-KO"], "range": ["black","black","black","black","white","white","white","white"]}, "legend": null}}}
        ]},
        {"data": {"name": "brk"}, "transform": [{"filter": "datum.p=='Fi'"}], "layer": [
         {"mark": {"type": "rule", "strokeWidth": 1.2, "color": "black"}, "encoding": {"x": {"field": "a", "type": "quantitative", "scale": {"domain": [-0.5, 7.5], "nice": false, "zero": false}, "axis": null}, "x2": {"field": "b"}, "y": {"field": "y", "type": "quantitative", "title": "Relative Abundance", "scale": {"domain": [0, 150], "nice": false}}}},
         {"mark": {"type": "text", "fontSize": 8, "fontWeight": "bold", "baseline": "alphabetic", "dy": 3}, "encoding": {"x": {"field": "c", "type": "quantitative", "scale": {"domain": [-0.5, 7.5], "nice": false, "zero": false}, "axis": null}, "y": {"field": "y", "type": "quantitative", "title": "Relative Abundance", "scale": {"domain": [0, 150], "nice": false}}, "text": {"field": "t"}}}
        ]}
       ]},
      {"width": 131, "height": 88, "title": {"text": "Proteobacteria"}, "resolve": {"scale": {"x": "independent"}},
       "layer": [
        {"layer": [
         {"data": {"name": "bars"}, "transform": [{"filter": "datum.p=='Pr'"}], "mark": {"type": "bar", "fill": "white", "stroke": "#666666", "strokeWidth": 0.8},
          "encoding": {"x": {"field": "g", "type": "nominal", "scale": {"domain": ["M-WT","M-App","M-PS1","M-KO","F-WT","F-App","F-PS1","F-KO"], "paddingInner": 0.3, "paddingOuter": 0.15}, "axis": {"title": null, "labelAngle": -45, "labelFontSize": 8.5, "labelPadding": 2, "tickSize": 3, "labelExpr": "indexof(datum.value,'WT')>=0?'Wild Type':indexof(datum.value,'App')>=0?'Appᴺᴸ⁻ᴳ⁻ᶠ':indexof(datum.value,'PS1')>=0?'APP/PS1':'APP⁻/⁻'", "labelFontStyle": {"condition": {"test": "indexof(datum.value,'App')>=0", "value": "italic"}, "value": "normal"}}},
           "y": {"field": "m", "type": "quantitative", "title": "Relative Abundance", "scale": {"domain": [0, 100], "nice": false}, "axis": {"titleFontWeight": "bold", "titleFontSize": 9.5, "titlePadding": 3, "labelFontSize": 8, "tickSize": 3, "values": [0, 20, 40, 60, 80, 100]}}}},
         {"data": {"name": "bars"}, "transform": [{"filter": "datum.p=='Pr'"}], "mark": {"type": "errorbar", "ticks": true, "color": "black", "thickness": 0.8},
          "encoding": {"x": {"field": "g", "type": "nominal"}, "y": {"field": "m", "type": "quantitative", "title": "Relative Abundance", "scale": {"domain": [0, 100], "nice": false}}, "yError": {"field": "s"}}},
         {"data": {"name": "pts"}, "transform": [{"filter": "datum.p=='Pr'"}], "mark": {"type": "point", "filled": true, "size": 18, "stroke": "black", "strokeWidth": 0.7, "opacity": 1},
          "encoding": {"x": {"field": "g", "type": "nominal"}, "xOffset": {"field": "r", "type": "ordinal", "scale": {"domain": [0,1,2,3,4,5,6,7]}}, "y": {"field": "v", "type": "quantitative", "title": "Relative Abundance", "scale": {"domain": [0, 100], "nice": false}},
           "shape": {"field": "g", "type": "nominal", "scale": {"domain": ["M-WT","M-App","M-PS1","M-KO","F-WT","F-App","F-PS1","F-KO"], "range": ["circle","square","triangle-up","triangle-down","circle","square","triangle-up","triangle-down"]}, "legend": null},
           "fill": {"field": "g", "type": "nominal", "scale": {"domain": ["M-WT","M-App","M-PS1","M-KO","F-WT","F-App","F-PS1","F-KO"], "range": ["black","black","black","black","white","white","white","white"]}, "legend": null}}}
        ]},
        {"data": {"name": "brk"}, "transform": [{"filter": "datum.p=='Pr'"}], "layer": [
         {"mark": {"type": "rule", "strokeWidth": 1.2, "color": "black"}, "encoding": {"x": {"field": "a", "type": "quantitative", "scale": {"domain": [-0.5, 7.5], "nice": false, "zero": false}, "axis": null}, "x2": {"field": "b"}, "y": {"field": "y", "type": "quantitative", "title": "Relative Abundance", "scale": {"domain": [0, 100], "nice": false}}}},
         {"mark": {"type": "text", "fontSize": 8, "fontWeight": "bold", "baseline": "alphabetic", "dy": 3}, "encoding": {"x": {"field": "c", "type": "quantitative", "scale": {"domain": [-0.5, 7.5], "nice": false, "zero": false}, "axis": null}, "y": {"field": "y", "type": "quantitative", "title": "Relative Abundance", "scale": {"domain": [0, 100], "nice": false}}, "text": {"field": "t"}}}
        ]}
       ]},
      {"width": 131, "height": 88, "title": {"text": "Actinobacteria"},
       "layer": [
         {"data": {"name": "bars"}, "transform": [{"filter": "datum.p=='Ac'"}], "mark": {"type": "bar", "fill": "white", "stroke": "#666666", "strokeWidth": 0.8},
          "encoding": {"x": {"field": "g", "type": "nominal", "scale": {"domain": ["M-WT","M-App","M-PS1","M-KO","F-WT","F-App","F-PS1","F-KO"], "paddingInner": 0.3, "paddingOuter": 0.15}, "axis": {"title": null, "labelAngle": -45, "labelFontSize": 8.5, "labelPadding": 2, "tickSize": 3, "labelExpr": "indexof(datum.value,'WT')>=0?'Wild Type':indexof(datum.value,'App')>=0?'Appᴺᴸ⁻ᴳ⁻ᶠ':indexof(datum.value,'PS1')>=0?'APP/PS1':'APP⁻/⁻'", "labelFontStyle": {"condition": {"test": "indexof(datum.value,'App')>=0", "value": "italic"}, "value": "normal"}}},
           "y": {"field": "m", "type": "quantitative", "title": "Relative Abundance", "scale": {"domain": [0, 100], "nice": false}, "axis": {"titleFontWeight": "bold", "titleFontSize": 9.5, "titlePadding": 3, "labelFontSize": 8, "tickSize": 3, "values": [0, 20, 40, 60, 80, 100]}}}},
         {"data": {"name": "bars"}, "transform": [{"filter": "datum.p=='Ac'"}], "mark": {"type": "errorbar", "ticks": true, "color": "black", "thickness": 0.8},
          "encoding": {"x": {"field": "g", "type": "nominal"}, "y": {"field": "m", "type": "quantitative", "title": "Relative Abundance", "scale": {"domain": [0, 100], "nice": false}}, "yError": {"field": "s"}}},
         {"data": {"name": "pts"}, "transform": [{"filter": "datum.p=='Ac'"}], "mark": {"type": "point", "filled": true, "size": 18, "stroke": "black", "strokeWidth": 0.7, "opacity": 1},
          "encoding": {"x": {"field": "g", "type": "nominal"}, "xOffset": {"field": "r", "type": "ordinal", "scale": {"domain": [0,1,2,3,4,5,6,7]}}, "y": {"field": "v", "type": "quantitative", "title": "Relative Abundance", "scale": {"domain": [0, 100], "nice": false}},
           "shape": {"field": "g", "type": "nominal", "scale": {"domain": ["M-WT","M-App","M-PS1","M-KO","F-WT","F-App","F-PS1","F-KO"], "range": ["circle","square","triangle-up","triangle-down","circle","square","triangle-up","triangle-down"]}, "legend": null},
           "fill": {"field": "g", "type": "nominal", "scale": {"domain": ["M-WT","M-App","M-PS1","M-KO","F-WT","F-App","F-PS1","F-KO"], "range": ["black","black","black","black","white","white","white","white"]}, "legend": null}}}
       ]}
     ]},
     {"spacing": 11, "hconcat": [
      {"width": 131, "height": 88, "title": {"text": "Cyanobacteria"}, "resolve": {"scale": {"x": "independent"}},
       "layer": [
        {"layer": [
         {"data": {"name": "bars"}, "transform": [{"filter": "datum.p=='Cy'"}], "mark": {"type": "bar", "fill": "white", "stroke": "#666666", "strokeWidth": 0.8},
          "encoding": {"x": {"field": "g", "type": "nominal", "scale": {"domain": ["M-WT","M-App","M-PS1","M-KO","F-WT","F-App","F-PS1","F-KO"], "paddingInner": 0.3, "paddingOuter": 0.15}, "axis": {"title": null, "labelAngle": -45, "labelFontSize": 8.5, "labelPadding": 2, "tickSize": 3, "labelExpr": "indexof(datum.value,'WT')>=0?'Wild Type':indexof(datum.value,'App')>=0?'Appᴺᴸ⁻ᴳ⁻ᶠ':indexof(datum.value,'PS1')>=0?'APP/PS1':'APP⁻/⁻'", "labelFontStyle": {"condition": {"test": "indexof(datum.value,'App')>=0", "value": "italic"}, "value": "normal"}}},
           "y": {"field": "m", "type": "quantitative", "title": "Relative Abundance", "scale": {"domain": [0, 40], "nice": false}, "axis": {"titleFontWeight": "bold", "titleFontSize": 9.5, "titlePadding": 3, "labelFontSize": 8, "tickSize": 3, "values": [0, 10, 20, 30, 40]}}}},
         {"data": {"name": "bars"}, "transform": [{"filter": "datum.p=='Cy'"}], "mark": {"type": "errorbar", "ticks": true, "color": "black", "thickness": 0.8},
          "encoding": {"x": {"field": "g", "type": "nominal"}, "y": {"field": "m", "type": "quantitative", "title": "Relative Abundance", "scale": {"domain": [0, 40], "nice": false}}, "yError": {"field": "s"}}},
         {"data": {"name": "pts"}, "transform": [{"filter": "datum.p=='Cy'"}], "mark": {"type": "point", "filled": true, "size": 18, "stroke": "black", "strokeWidth": 0.7, "opacity": 1},
          "encoding": {"x": {"field": "g", "type": "nominal"}, "xOffset": {"field": "r", "type": "ordinal", "scale": {"domain": [0,1,2,3,4,5,6,7]}}, "y": {"field": "v", "type": "quantitative", "title": "Relative Abundance", "scale": {"domain": [0, 40], "nice": false}},
           "shape": {"field": "g", "type": "nominal", "scale": {"domain": ["M-WT","M-App","M-PS1","M-KO","F-WT","F-App","F-PS1","F-KO"], "range": ["circle","square","triangle-up","triangle-down","circle","square","triangle-up","triangle-down"]}, "legend": null},
           "fill": {"field": "g", "type": "nominal", "scale": {"domain": ["M-WT","M-App","M-PS1","M-KO","F-WT","F-App","F-PS1","F-KO"], "range": ["black","black","black","black","white","white","white","white"]}, "legend": null}}}
        ]},
        {"data": {"name": "brk"}, "transform": [{"filter": "datum.p=='Cy'"}], "layer": [
         {"mark": {"type": "rule", "strokeWidth": 1.2, "color": "black"}, "encoding": {"x": {"field": "a", "type": "quantitative", "scale": {"domain": [-0.5, 7.5], "nice": false, "zero": false}, "axis": null}, "x2": {"field": "b"}, "y": {"field": "y", "type": "quantitative", "title": "Relative Abundance", "scale": {"domain": [0, 40], "nice": false}}}},
         {"mark": {"type": "text", "fontSize": 8, "fontWeight": "bold", "baseline": "alphabetic", "dy": 3}, "encoding": {"x": {"field": "c", "type": "quantitative", "scale": {"domain": [-0.5, 7.5], "nice": false, "zero": false}, "axis": null}, "y": {"field": "y", "type": "quantitative", "title": "Relative Abundance", "scale": {"domain": [0, 40], "nice": false}}, "text": {"field": "t"}}}
        ]}
       ]},
      {"width": 131, "height": 88, "title": {"text": "Tenericutes"}, "resolve": {"scale": {"x": "independent"}},
       "layer": [
        {"layer": [
         {"data": {"name": "bars"}, "transform": [{"filter": "datum.p=='Te'"}], "mark": {"type": "bar", "fill": "white", "stroke": "#666666", "strokeWidth": 0.8},
          "encoding": {"x": {"field": "g", "type": "nominal", "scale": {"domain": ["M-WT","M-App","M-PS1","M-KO","F-WT","F-App","F-PS1","F-KO"], "paddingInner": 0.3, "paddingOuter": 0.15}, "axis": {"title": null, "labelAngle": -45, "labelFontSize": 8.5, "labelPadding": 2, "tickSize": 3, "labelExpr": "indexof(datum.value,'WT')>=0?'Wild Type':indexof(datum.value,'App')>=0?'Appᴺᴸ⁻ᴳ⁻ᶠ':indexof(datum.value,'PS1')>=0?'APP/PS1':'APP⁻/⁻'", "labelFontStyle": {"condition": {"test": "indexof(datum.value,'App')>=0", "value": "italic"}, "value": "normal"}}},
           "y": {"field": "m", "type": "quantitative", "title": "Relative Abundance", "scale": {"domain": [0, 40], "nice": false}, "axis": {"titleFontWeight": "bold", "titleFontSize": 9.5, "titlePadding": 3, "labelFontSize": 8, "tickSize": 3, "values": [0, 10, 20, 30, 40]}}}},
         {"data": {"name": "bars"}, "transform": [{"filter": "datum.p=='Te'"}], "mark": {"type": "errorbar", "ticks": true, "color": "black", "thickness": 0.8},
          "encoding": {"x": {"field": "g", "type": "nominal"}, "y": {"field": "m", "type": "quantitative", "title": "Relative Abundance", "scale": {"domain": [0, 40], "nice": false}}, "yError": {"field": "s"}}},
         {"data": {"name": "pts"}, "transform": [{"filter": "datum.p=='Te'"}], "mark": {"type": "point", "filled": true, "size": 18, "stroke": "black", "strokeWidth": 0.7, "opacity": 1},
          "encoding": {"x": {"field": "g", "type": "nominal"}, "xOffset": {"field": "r", "type": "ordinal", "scale": {"domain": [0,1,2,3,4,5,6,7]}}, "y": {"field": "v", "type": "quantitative", "title": "Relative Abundance", "scale": {"domain": [0, 40], "nice": false}},
           "shape": {"field": "g", "type": "nominal", "scale": {"domain": ["M-WT","M-App","M-PS1","M-KO","F-WT","F-App","F-PS1","F-KO"], "range": ["circle","square","triangle-up","triangle-down","circle","square","triangle-up","triangle-down"]}, "legend": null},
           "fill": {"field": "g", "type": "nominal", "scale": {"domain": ["M-WT","M-App","M-PS1","M-KO","F-WT","F-App","F-PS1","F-KO"], "range": ["black","black","black","black","white","white","white","white"]}, "legend": null}}}
        ]},
        {"data": {"name": "brk"}, "transform": [{"filter": "datum.p=='Te'"}], "layer": [
         {"mark": {"type": "rule", "strokeWidth": 1.2, "color": "black"}, "encoding": {"x": {"field": "a", "type": "quantitative", "scale": {"domain": [-0.5, 7.5], "nice": false, "zero": false}, "axis": null}, "x2": {"field": "b"}, "y": {"field": "y", "type": "quantitative", "title": "Relative Abundance", "scale": {"domain": [0, 40], "nice": false}}}},
         {"mark": {"type": "text", "fontSize": 8, "fontWeight": "bold", "baseline": "alphabetic", "dy": 3}, "encoding": {"x": {"field": "c", "type": "quantitative", "scale": {"domain": [-0.5, 7.5], "nice": false, "zero": false}, "axis": null}, "y": {"field": "y", "type": "quantitative", "title": "Relative Abundance", "scale": {"domain": [0, 40], "nice": false}}, "text": {"field": "t"}}}
        ]}
       ]},
      {"width": 131, "height": 88, "title": {"text": "Bacteroidetes"},
       "layer": [
         {"data": {"name": "bars"}, "transform": [{"filter": "datum.p=='Ba'"}], "mark": {"type": "bar", "fill": "white", "stroke": "#666666", "strokeWidth": 0.8},
          "encoding": {"x": {"field": "g", "type": "nominal", "scale": {"domain": ["M-WT","M-App","M-PS1","M-KO","F-WT","F-App","F-PS1","F-KO"], "paddingInner": 0.3, "paddingOuter": 0.15}, "axis": {"title": null, "labelAngle": -45, "labelFontSize": 8.5, "labelPadding": 2, "tickSize": 3, "labelExpr": "indexof(datum.value,'WT')>=0?'Wild Type':indexof(datum.value,'App')>=0?'Appᴺᴸ⁻ᴳ⁻ᶠ':indexof(datum.value,'PS1')>=0?'APP/PS1':'APP⁻/⁻'", "labelFontStyle": {"condition": {"test": "indexof(datum.value,'App')>=0", "value": "italic"}, "value": "normal"}}},
           "y": {"field": "m", "type": "quantitative", "title": "Relative Abundance", "scale": {"domain": [0, 25], "nice": false}, "axis": {"titleFontWeight": "bold", "titleFontSize": 9.5, "titlePadding": 3, "labelFontSize": 8, "tickSize": 3, "values": [0, 5, 10, 15, 20, 25]}}}},
         {"data": {"name": "bars"}, "transform": [{"filter": "datum.p=='Ba'"}], "mark": {"type": "errorbar", "ticks": true, "color": "black", "thickness": 0.8},
          "encoding": {"x": {"field": "g", "type": "nominal"}, "y": {"field": "m", "type": "quantitative", "title": "Relative Abundance", "scale": {"domain": [0, 25], "nice": false}}, "yError": {"field": "s"}}},
         {"data": {"name": "pts"}, "transform": [{"filter": "datum.p=='Ba'"}], "mark": {"type": "point", "filled": true, "size": 18, "stroke": "black", "strokeWidth": 0.7, "opacity": 1},
          "encoding": {"x": {"field": "g", "type": "nominal"}, "xOffset": {"field": "r", "type": "ordinal", "scale": {"domain": [0,1,2,3,4,5,6,7]}}, "y": {"field": "v", "type": "quantitative", "title": "Relative Abundance", "scale": {"domain": [0, 25], "nice": false}},
           "shape": {"field": "g", "type": "nominal", "scale": {"domain": ["M-WT","M-App","M-PS1","M-KO","F-WT","F-App","F-PS1","F-KO"], "range": ["circle","square","triangle-up","triangle-down","circle","square","triangle-up","triangle-down"]}, "legend": null},
           "fill": {"field": "g", "type": "nominal", "scale": {"domain": ["M-WT","M-App","M-PS1","M-KO","F-WT","F-App","F-PS1","F-KO"], "range": ["black","black","black","black","white","white","white","white"]}, "legend": null}}}
       ]}
     ]}
    ]
   }
  ],
  "columns": 2,
  "align": "none",
  "spacing": 12,
  "resolve": {"scale": {"color": "independent"}, "legend": {"color": "independent"}}
 },
 {
  "spacing": 10,
  "resolve": {"scale": {"color": "independent"}, "legend": {"color": "independent"}},
  "hconcat": [
   {"width": 62, "height": 100, "data": {"name": "A"}, "mark": {"type": "square", "opacity": 0},
    "encoding": {"color": {"field": "ph", "type": "nominal", "scale": {"domain": ["p_Fusobacteria","p_Chloroflexi","p_Deinococcus-Thermus","p_Unclassified","p_Verrucomicrobia","p_Unknown","p_Bacteroidetes","p_Tenericutes","p_Cyanobacteria","p_Actinobacteria","p_Proteobacteria","p_Firmicutes"], "range": ["#fb8072","#bebada","#ffffb3","#8dd3c7","#000080","#e7298a","#f46d43","#ff0000","#ffed6f","#66a61e","#5e4fa2","#3288bd"]},
     "legend": {"orient": "none", "legendX": -35, "legendY": -30, "title": "Phylum", "titleFontSize": 9.5, "titleFontWeight": "normal", "titleColor": "black", "labelFontSize": 7, "labelFontStyle": "italic", "labelColor": "#222222", "symbolType": "square", "symbolSize": 45, "symbolOpacity": 1, "symbolStrokeWidth": 0, "rowPadding": 0.3, "labelOffset": 3, "titlePadding": 2, "labelLimit": 120, "padding": 0}}}},
   {"spacing": 7, "hconcat": [
   {"spacing": 1, "vconcat": [
    {"width": 134, "height": 88, "title": {"text": "Deinococcus-Thermus"},
     "layer": [
       {"data": {"name": "bars"}, "transform": [{"filter": "datum.p=='De'"}], "mark": {"type": "bar", "fill": "white", "stroke": "#666666", "strokeWidth": 0.8},
        "encoding": {"x": {"field": "g", "type": "nominal", "scale": {"domain": ["M-WT","M-App","M-PS1","M-KO","F-WT","F-App","F-PS1","F-KO"], "paddingInner": 0.3, "paddingOuter": 0.15}, "axis": {"title": null, "labelAngle": -45, "labelFontSize": 8, "labelPadding": 2, "tickSize": 3, "labelExpr": "indexof(datum.value,'WT')>=0?'Wild Type':indexof(datum.value,'App')>=0?'Appᴺᴸ⁻ᴳ⁻ᶠ':indexof(datum.value,'PS1')>=0?'APP/PS1':'APP⁻/⁻'", "labelFontStyle": {"condition": {"test": "indexof(datum.value,'App')>=0", "value": "italic"}, "value": "normal"}}},
         "y": {"field": "m", "type": "quantitative", "title": "Relative Abundance", "scale": {"domain": [0, 1.5], "nice": false}, "axis": {"titleFontWeight": "bold", "titleFontSize": 9.5, "titlePadding": 3, "labelFontSize": 8, "tickSize": 3, "values": [0, 0.5, 1, 1.5], "labelExpr": "datum.value==0?'0':format(datum.value,'.1f')"}}}},
       {"data": {"name": "bars"}, "transform": [{"filter": "datum.p=='De'"}], "mark": {"type": "errorbar", "ticks": true, "color": "black", "thickness": 0.8},
        "encoding": {"x": {"field": "g", "type": "nominal"}, "y": {"field": "m", "type": "quantitative", "title": "Relative Abundance", "scale": {"domain": [0, 1.5], "nice": false}}, "yError": {"field": "s"}}},
       {"data": {"name": "pts"}, "transform": [{"filter": "datum.p=='De'"}], "mark": {"type": "point", "filled": true, "size": 18, "stroke": "black", "strokeWidth": 0.7, "opacity": 1},
        "encoding": {"x": {"field": "g", "type": "nominal"}, "xOffset": {"field": "r", "type": "ordinal", "scale": {"domain": [0,1,2,3,4,5,6,7]}}, "y": {"field": "v", "type": "quantitative", "title": "Relative Abundance", "scale": {"domain": [0, 1.5], "nice": false}},
         "shape": {"field": "g", "type": "nominal", "scale": {"domain": ["M-WT","M-App","M-PS1","M-KO","F-WT","F-App","F-PS1","F-KO"], "range": ["circle","square","triangle-up","triangle-down","circle","square","triangle-up","triangle-down"]}, "legend": null},
         "fill": {"field": "g", "type": "nominal", "scale": {"domain": ["M-WT","M-App","M-PS1","M-KO","F-WT","F-App","F-PS1","F-KO"], "range": ["black","black","black","black","white","white","white","white"]}, "legend": null}}}
     ]},
    {"width": 134, "height": 5, "data": {"name": "sexbar"}, "mark": {"type": "rect", "color": "black"},
     "encoding": {"x": {"field": "a", "type": "quantitative", "scale": {"domain": [-0.5, 7.5], "nice": false, "zero": false}, "axis": {"title": null, "domain": false, "ticks": false, "grid": false, "values": [1.5, 5.5], "labelExpr": "datum.value < 4 ? 'Male' : 'Female'", "labelFontSize": 9.5, "labelFontWeight": "bold", "labelPadding": 1, "labelAngle": 0}}, "x2": {"field": "b"}}}
   ]},
   {"spacing": 1, "vconcat": [
    {"width": 134, "height": 88, "title": {"text": "Unknown"},
     "layer": [
       {"data": {"name": "bars"}, "transform": [{"filter": "datum.p=='Un'"}], "mark": {"type": "bar", "fill": "white", "stroke": "#666666", "strokeWidth": 0.8},
        "encoding": {"x": {"field": "g", "type": "nominal", "scale": {"domain": ["M-WT","M-App","M-PS1","M-KO","F-WT","F-App","F-PS1","F-KO"], "paddingInner": 0.3, "paddingOuter": 0.15}, "axis": {"title": null, "labelAngle": -45, "labelFontSize": 8, "labelPadding": 2, "tickSize": 3, "labelExpr": "indexof(datum.value,'WT')>=0?'Wild Type':indexof(datum.value,'App')>=0?'Appᴺᴸ⁻ᴳ⁻ᶠ':indexof(datum.value,'PS1')>=0?'APP/PS1':'APP⁻/⁻'", "labelFontStyle": {"condition": {"test": "indexof(datum.value,'App')>=0", "value": "italic"}, "value": "normal"}}},
         "y": {"field": "m", "type": "quantitative", "title": "Relative Abundance", "scale": {"domain": [0, 20], "nice": false}, "axis": {"titleFontWeight": "bold", "titleFontSize": 9.5, "titlePadding": 3, "labelFontSize": 8, "tickSize": 3, "values": [0, 5, 10, 15, 20]}}}},
       {"data": {"name": "bars"}, "transform": [{"filter": "datum.p=='Un'"}], "mark": {"type": "errorbar", "ticks": true, "color": "black", "thickness": 0.8},
        "encoding": {"x": {"field": "g", "type": "nominal"}, "y": {"field": "m", "type": "quantitative", "title": "Relative Abundance", "scale": {"domain": [0, 20], "nice": false}}, "yError": {"field": "s"}}},
       {"data": {"name": "pts"}, "transform": [{"filter": "datum.p=='Un'"}], "mark": {"type": "point", "filled": true, "size": 18, "stroke": "black", "strokeWidth": 0.7, "opacity": 1},
        "encoding": {"x": {"field": "g", "type": "nominal"}, "xOffset": {"field": "r", "type": "ordinal", "scale": {"domain": [0,1,2,3,4,5,6,7]}}, "y": {"field": "v", "type": "quantitative", "title": "Relative Abundance", "scale": {"domain": [0, 20], "nice": false}},
         "shape": {"field": "g", "type": "nominal", "scale": {"domain": ["M-WT","M-App","M-PS1","M-KO","F-WT","F-App","F-PS1","F-KO"], "range": ["circle","square","triangle-up","triangle-down","circle","square","triangle-up","triangle-down"]}, "legend": null},
         "fill": {"field": "g", "type": "nominal", "scale": {"domain": ["M-WT","M-App","M-PS1","M-KO","F-WT","F-App","F-PS1","F-KO"], "range": ["black","black","black","black","white","white","white","white"]}, "legend": null}}}
     ]},
    {"width": 134, "height": 5, "data": {"name": "sexbar"}, "mark": {"type": "rect", "color": "black"},
     "encoding": {"x": {"field": "a", "type": "quantitative", "scale": {"domain": [-0.5, 7.5], "nice": false, "zero": false}, "axis": {"title": null, "domain": false, "ticks": false, "grid": false, "values": [1.5, 5.5], "labelExpr": "datum.value < 4 ? 'Male' : 'Female'", "labelFontSize": 9.5, "labelFontWeight": "bold", "labelPadding": 1, "labelAngle": 0}}, "x2": {"field": "b"}}}
   ]},
   {"spacing": 1, "vconcat": [
    {"width": 134, "height": 88, "title": {"text": "Verrucomicrobia"},
     "layer": [
       {"data": {"name": "bars"}, "transform": [{"filter": "datum.p=='Ve'"}], "mark": {"type": "bar", "fill": "white", "stroke": "#666666", "strokeWidth": 0.8},
        "encoding": {"x": {"field": "g", "type": "nominal", "scale": {"domain": ["M-WT","M-App","M-PS1","M-KO","F-WT","F-App","F-PS1","F-KO"], "paddingInner": 0.3, "paddingOuter": 0.15}, "axis": {"title": null, "labelAngle": -45, "labelFontSize": 8, "labelPadding": 2, "tickSize": 3, "labelExpr": "indexof(datum.value,'WT')>=0?'Wild Type':indexof(datum.value,'App')>=0?'Appᴺᴸ⁻ᴳ⁻ᶠ':indexof(datum.value,'PS1')>=0?'APP/PS1':'APP⁻/⁻'", "labelFontStyle": {"condition": {"test": "indexof(datum.value,'App')>=0", "value": "italic"}, "value": "normal"}}},
         "y": {"field": "m", "type": "quantitative", "title": "Relative Abundance", "scale": {"domain": [0, 1], "nice": false}, "axis": {"titleFontWeight": "bold", "titleFontSize": 9.5, "titlePadding": 3, "labelFontSize": 8, "tickSize": 3, "values": [0, 0.2, 0.4, 0.6, 0.8, 1], "labelExpr": "datum.value==0?'0':format(datum.value,'.1f')"}}}},
       {"data": {"name": "bars"}, "transform": [{"filter": "datum.p=='Ve'"}], "mark": {"type": "errorbar", "ticks": true, "color": "black", "thickness": 0.8},
        "encoding": {"x": {"field": "g", "type": "nominal"}, "y": {"field": "m", "type": "quantitative", "title": "Relative Abundance", "scale": {"domain": [0, 1], "nice": false}}, "yError": {"field": "s"}}},
       {"data": {"name": "pts"}, "transform": [{"filter": "datum.p=='Ve'"}], "mark": {"type": "point", "filled": true, "size": 18, "stroke": "black", "strokeWidth": 0.7, "opacity": 1},
        "encoding": {"x": {"field": "g", "type": "nominal"}, "xOffset": {"field": "r", "type": "ordinal", "scale": {"domain": [0,1,2,3,4,5,6,7]}}, "y": {"field": "v", "type": "quantitative", "title": "Relative Abundance", "scale": {"domain": [0, 1], "nice": false}},
         "shape": {"field": "g", "type": "nominal", "scale": {"domain": ["M-WT","M-App","M-PS1","M-KO","F-WT","F-App","F-PS1","F-KO"], "range": ["circle","square","triangle-up","triangle-down","circle","square","triangle-up","triangle-down"]}, "legend": null},
         "fill": {"field": "g", "type": "nominal", "scale": {"domain": ["M-WT","M-App","M-PS1","M-KO","F-WT","F-App","F-PS1","F-KO"], "range": ["black","black","black","black","white","white","white","white"]}, "legend": null}}}
     ]},
    {"width": 134, "height": 5, "data": {"name": "sexbar"}, "mark": {"type": "rect", "color": "black"},
     "encoding": {"x": {"field": "a", "type": "quantitative", "scale": {"domain": [-0.5, 7.5], "nice": false, "zero": false}, "axis": {"title": null, "domain": false, "ticks": false, "grid": false, "values": [1.5, 5.5], "labelExpr": "datum.value < 4 ? 'Male' : 'Female'", "labelFontSize": 9.5, "labelFontWeight": "bold", "labelPadding": 1, "labelAngle": 0}}, "x2": {"field": "b"}}}
   ]},
   {"spacing": 1, "vconcat": [
    {"width": 134, "height": 88, "title": {"text": "Unclassified"},
     "layer": [
       {"data": {"name": "bars"}, "transform": [{"filter": "datum.p=='Uc'"}], "mark": {"type": "bar", "fill": "white", "stroke": "#666666", "strokeWidth": 0.8},
        "encoding": {"x": {"field": "g", "type": "nominal", "scale": {"domain": ["M-WT","M-App","M-PS1","M-KO","F-WT","F-App","F-PS1","F-KO"], "paddingInner": 0.3, "paddingOuter": 0.15}, "axis": {"title": null, "labelAngle": -45, "labelFontSize": 8, "labelPadding": 2, "tickSize": 3, "labelExpr": "indexof(datum.value,'WT')>=0?'Wild Type':indexof(datum.value,'App')>=0?'Appᴺᴸ⁻ᴳ⁻ᶠ':indexof(datum.value,'PS1')>=0?'APP/PS1':'APP⁻/⁻'", "labelFontStyle": {"condition": {"test": "indexof(datum.value,'App')>=0", "value": "italic"}, "value": "normal"}}},
         "y": {"field": "m", "type": "quantitative", "title": "Relative Abundance", "scale": {"domain": [0, 0.4], "nice": false}, "axis": {"titleFontWeight": "bold", "titleFontSize": 9.5, "titlePadding": 3, "labelFontSize": 8, "tickSize": 3, "values": [0, 0.1, 0.2, 0.3, 0.4], "labelExpr": "datum.value==0?'0':format(datum.value,'.1f')"}}}},
       {"data": {"name": "bars"}, "transform": [{"filter": "datum.p=='Uc'"}], "mark": {"type": "errorbar", "ticks": true, "color": "black", "thickness": 0.8},
        "encoding": {"x": {"field": "g", "type": "nominal"}, "y": {"field": "m", "type": "quantitative", "title": "Relative Abundance", "scale": {"domain": [0, 0.4], "nice": false}}, "yError": {"field": "s"}}},
       {"data": {"name": "pts"}, "transform": [{"filter": "datum.p=='Uc'"}], "mark": {"type": "point", "filled": true, "size": 18, "stroke": "black", "strokeWidth": 0.7, "opacity": 1},
        "encoding": {"x": {"field": "g", "type": "nominal"}, "xOffset": {"field": "r", "type": "ordinal", "scale": {"domain": [0,1,2,3,4,5,6,7]}}, "y": {"field": "v", "type": "quantitative", "title": "Relative Abundance", "scale": {"domain": [0, 0.4], "nice": false}},
         "shape": {"field": "g", "type": "nominal", "scale": {"domain": ["M-WT","M-App","M-PS1","M-KO","F-WT","F-App","F-PS1","F-KO"], "range": ["circle","square","triangle-up","triangle-down","circle","square","triangle-up","triangle-down"]}, "legend": null},
         "fill": {"field": "g", "type": "nominal", "scale": {"domain": ["M-WT","M-App","M-PS1","M-KO","F-WT","F-App","F-PS1","F-KO"], "range": ["black","black","black","black","white","white","white","white"]}, "legend": null}}}
     ]},
    {"width": 134, "height": 5, "data": {"name": "sexbar"}, "mark": {"type": "rect", "color": "black"},
     "encoding": {"x": {"field": "a", "type": "quantitative", "scale": {"domain": [-0.5, 7.5], "nice": false, "zero": false}, "axis": {"title": null, "domain": false, "ticks": false, "grid": false, "values": [1.5, 5.5], "labelExpr": "datum.value < 4 ? 'Male' : 'Female'", "labelFontSize": 9.5, "labelFontWeight": "bold", "labelPadding": 1, "labelAngle": 0}}, "x2": {"field": "b"}}}
   ]}
   ]}
  ]
 }
]
}
